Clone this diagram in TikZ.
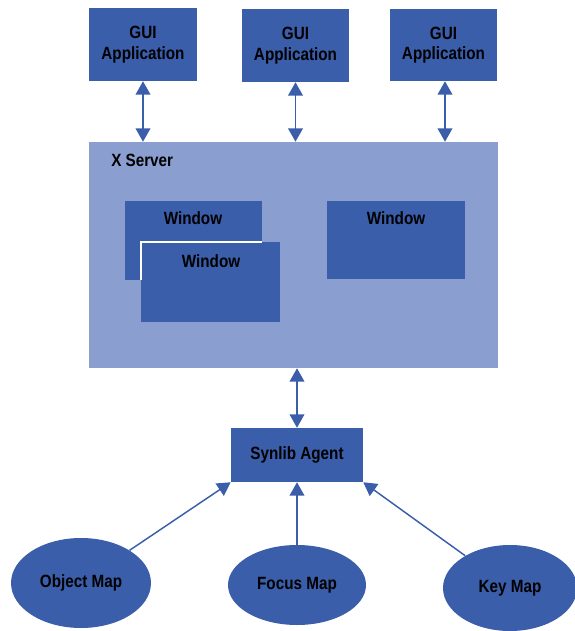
\documentclass[tikz,border=0pt]{standalone}
\usepackage{fontspec}
\setmainfont{Liberation Sans}[FakeStretch=0.86]
\usetikzlibrary{arrows.meta,shapes.geometric}
\definecolor{dblue}{RGB}{59,94,171}
\definecolor{lblue}{RGB}{138,159,208}
\begin{document}
\begin{tikzpicture}[x=0.75pt,y=-0.75pt,
  box/.style={draw=none,fill=dblue,rectangle,inner sep=0pt,align=center,
    font=\fontsize{13.3}{15.5}\selectfont\bfseries},
  ell/.style={draw=none,fill=dblue,ellipse,inner sep=0pt,
    font=\fontsize{13.3}{15.5}\selectfont\bfseries},
  lbl/.style={inner sep=0pt,font=\fontsize{13.3}{15.5}\selectfont\bfseries},
  conn/.style={draw=dblue,line width=1.1pt,-{Triangle[width=11pt,length=10pt]}},
  bconn/.style={draw=dblue,line width=1.1pt,{Triangle[width=11pt,length=10pt]}-{Triangle[width=11pt,length=10pt]}}]
\useasboundingbox (0,0) rectangle (574,631);
% GUI apps
\node[box,minimum width=81pt,minimum height=54.75pt] (g1) at (143,44.5) {GUI\\Application};
\node[box,minimum width=80.25pt,minimum height=54.75pt] (g2) at (295.5,45.5) {GUI\\Application};
\node[box,minimum width=80.25pt,minimum height=54pt] (g3) at (443.5,45) {GUI\\Application};
% X server
\node[box,fill=lblue,minimum width=306.75pt,minimum height=169.5pt] (xs) at (293.5,255) {};
\node[lbl,anchor=west] (xsl) at (111,160) {X Server};
% windows
\node[box,minimum width=102.75pt,minimum height=59.25pt] (w1) at (193.5,240.5) {};
\node[lbl] (w1l) at (193,218) {Window};
\node[box,minimum width=104.25pt,minimum height=60pt] (w2) at (210.5,282) {};
\draw[white,line width=1.2pt] (w2.west |- w1.south) -- (w2.north west) -- (w2.north west -| w1.east);
\node[lbl] (w2l) at (211,261) {Window};
\node[box,minimum width=103.5pt,minimum height=58.5pt] (w3) at (396,240) {};
\node[lbl] (w3l) at (396,218) {Window};
% Synlib agent
\node[box,minimum width=99pt,minimum height=40.5pt] (s) at (297,455) {Synlib Agent};
% maps
\node[ell,minimum width=105pt,minimum height=67.5pt] (om) at (81,583) {Object Map};
\node[ell,minimum width=103.5pt,minimum height=60pt] (fm) at (297,585) {Focus Map};
\node[ell,minimum width=100.5pt,minimum height=64.5pt] (km) at (510,588) {Key Map};
% connectors
\coordinate (a1) at (143,0);
\coordinate (a3) at (445,0);
\draw[bconn] (g1.south -| a1) -- (xs.north -| a1);
\draw[bconn] (g2.south) -- (xs.north -| g2.south);
\draw[bconn] (g3.south -| a3) -- (xs.north -| a3);
\draw[bconn] (xs.south -| s.north) -- (s.north);
\draw[conn] (om) -- (s.south west);
\draw[conn] (fm.north) -- (s.south -| fm.north);
\draw[conn] (km) -- (s.south east);
\end{tikzpicture}
\end{document}
